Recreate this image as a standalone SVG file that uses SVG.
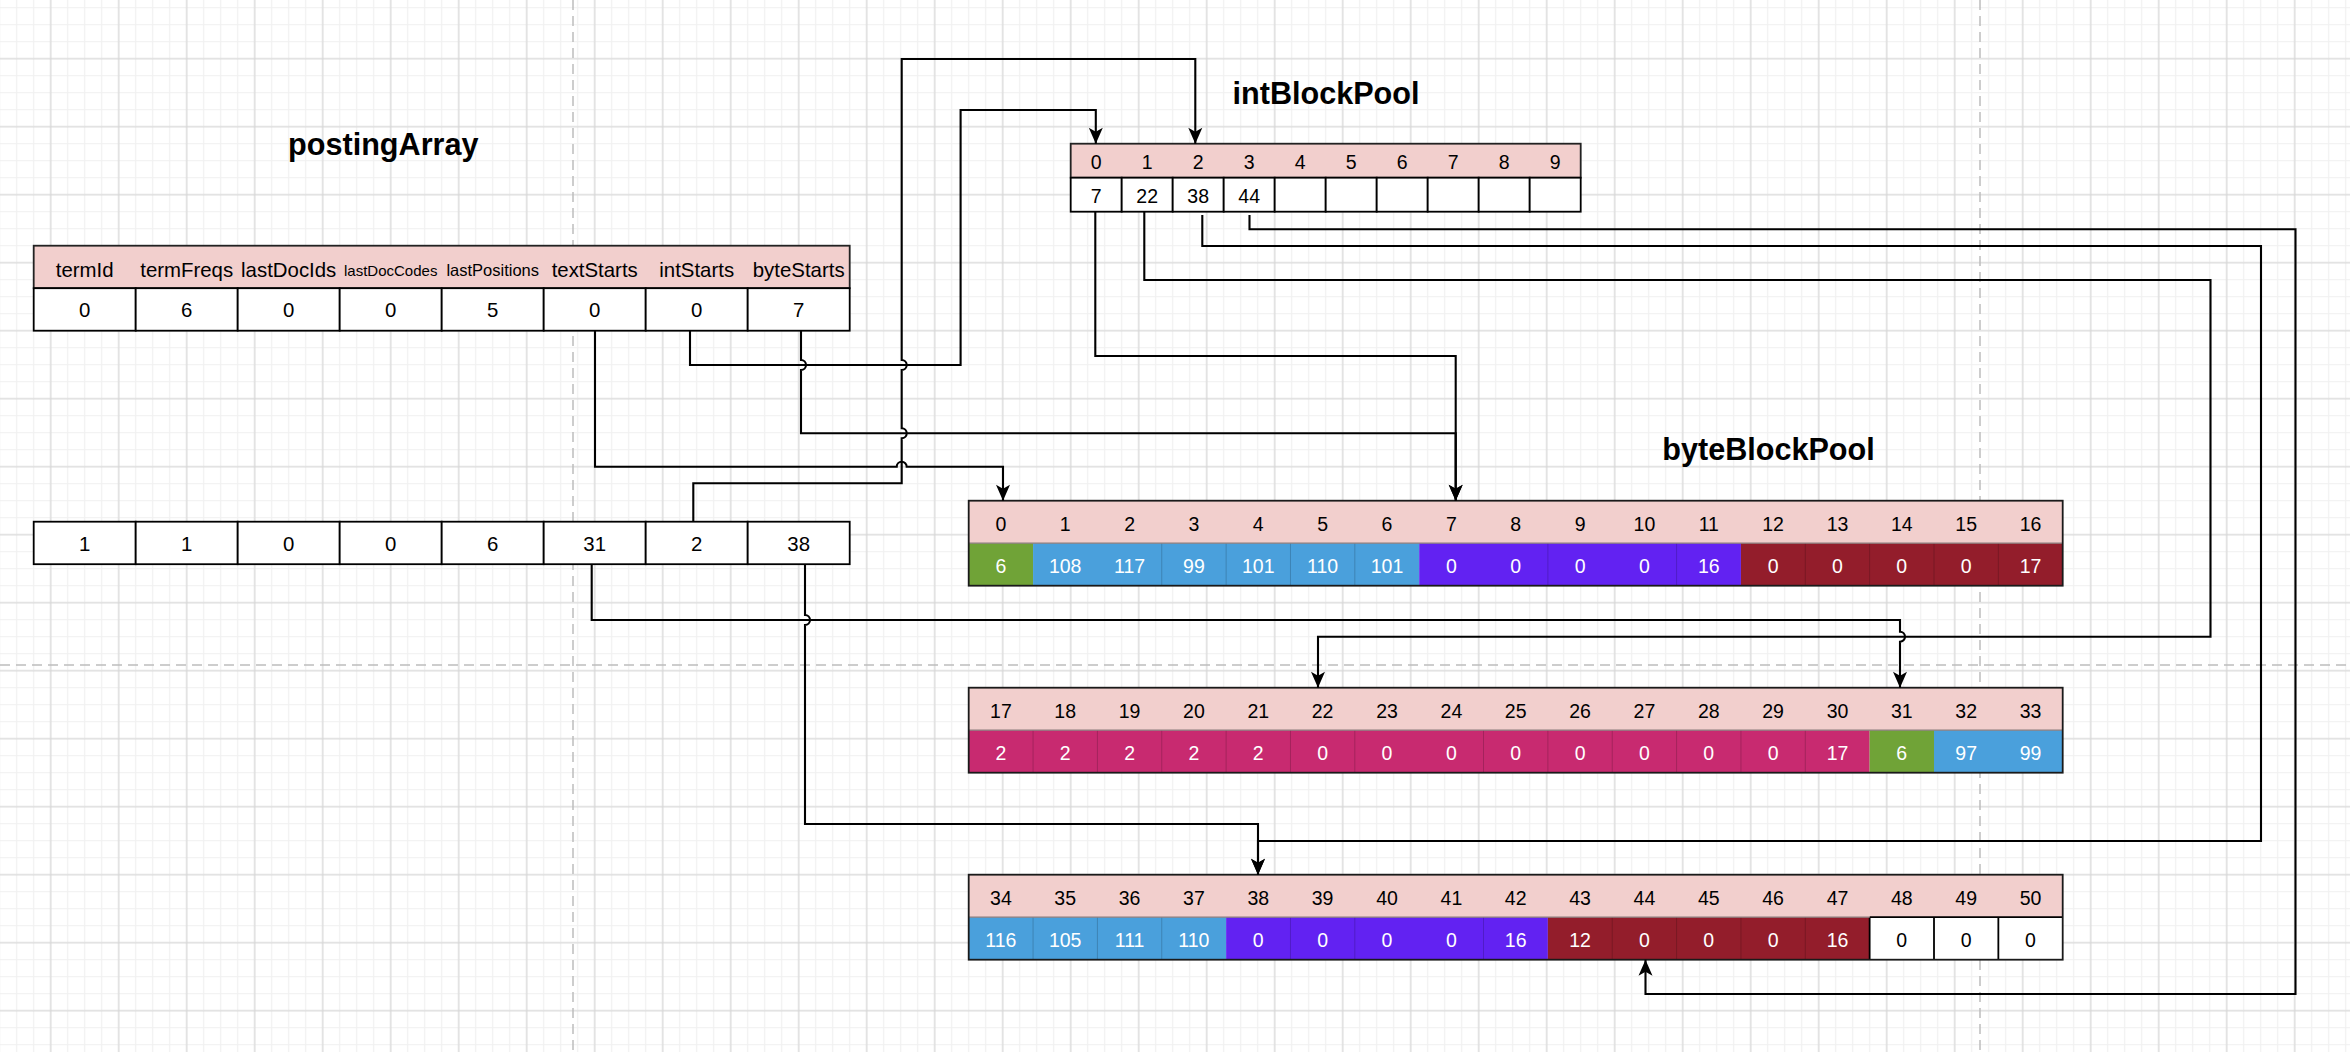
<svg xmlns="http://www.w3.org/2000/svg" width="2350" height="1052" viewBox="0 0 2350 1052">
<defs>
<pattern id="gmin" width="17" height="17" patternUnits="userSpaceOnUse" x="8.2" y="-0.8">
<path d="M8.5,0 V17 M0,8.5 H17" stroke="#f0f0f0" stroke-width="1.2" fill="none"/>
</pattern>
<pattern id="gmaj" width="68" height="68" patternUnits="userSpaceOnUse" x="16.7" y="24.7">
<path d="M34,0 V68 M0,34 H68" stroke="#d3d3d3" stroke-width="1" fill="none"/>
</pattern>
<marker id="arr" markerUnits="userSpaceOnUse" markerWidth="18" markerHeight="16" viewBox="0 0 18 16" refX="17" refY="8" orient="auto">
<path d="M1,1 L17,8 L1,15 L5,8 Z" fill="#000"/>
</marker>
</defs>
<style>
.t{font-family:"Liberation Sans",Arial,Helvetica,sans-serif;font-size:20.4px;text-anchor:middle;fill:#000}
.n{font-size:19.5px}
.w{fill:#fff}
.title{font-family:"Liberation Sans",Arial,Helvetica,sans-serif;font-size:30.6px;font-weight:bold;text-anchor:middle;fill:#000}
.cell{fill:#fff;stroke:#000;stroke-width:1.8}
.hdr{fill:#f2cfcd;stroke:#222;stroke-width:1.8}
.ph{fill:#f2cfcd}
.conn path{fill:none;stroke:#000;stroke-width:2.1}
.conn path.a{marker-end:url(#arr)}
.div{stroke:#000;stroke-opacity:0.18;stroke-width:1}
.sep{stroke:#8a7c7c;stroke-width:1.2}
.outer{fill:none;stroke:#1a1a1a;stroke-width:1.8}
.pb{stroke:#bdbdbd;stroke-width:1.5;stroke-dasharray:10 6}
.G{fill:#70a337}.B{fill:#4aa0dc}.P{fill:#6222f2}.R{fill:#931d2b}.M{fill:#c82a70}
</style>

<g id="background">
<rect x="0" y="0" width="2350" height="1052" fill="#fff"/>
<rect x="0" y="0" width="2350" height="1052" fill="url(#gmin)"/>
<rect x="0" y="0" width="2350" height="1052" fill="url(#gmaj)"/>
<line class="pb" x1="573" y1="0" x2="573" y2="1052"/>
<line class="pb" x1="1980" y1="0" x2="1980" y2="1052"/>
<line class="pb" x1="0" y1="665" x2="2350" y2="665"/>
</g>

<g id="titles">
<text class="title" x="383.3" y="155">postingArray</text>
<text class="title" x="1326" y="103.5">intBlockPool</text>
<text class="title" x="1768.5" y="460">byteBlockPool</text>
</g>

<g id="postingArray-row0">
<rect class="hdr" x="33.7" y="245.7" width="816" height="42.5"/>
<text class="t" x="84.7" y="276.7">termId</text>
<text class="t" x="186.7" y="276.7">termFreqs</text>
<text class="t" x="288.7" y="276.7">lastDocIds</text>
<text class="t" x="390.7" y="275.5" style="font-size:15px">lastDocCodes</text>
<text class="t" x="492.7" y="276" style="font-size:16.5px">lastPositions</text>
<text class="t" x="594.7" y="276.7">textStarts</text>
<text class="t" x="696.7" y="276.7">intStarts</text>
<text class="t" x="798.7" y="276.7">byteStarts</text>
<rect class="cell" x="33.7" y="288.2" width="102" height="42.5"/>
<rect class="cell" x="135.7" y="288.2" width="102" height="42.5"/>
<rect class="cell" x="237.7" y="288.2" width="102" height="42.5"/>
<rect class="cell" x="339.7" y="288.2" width="102" height="42.5"/>
<rect class="cell" x="441.7" y="288.2" width="102" height="42.5"/>
<rect class="cell" x="543.7" y="288.2" width="102" height="42.5"/>
<rect class="cell" x="645.7" y="288.2" width="102" height="42.5"/>
<rect class="cell" x="747.7" y="288.2" width="102" height="42.5"/>
<text class="t" x="84.7" y="317.3">0</text>
<text class="t" x="186.7" y="317.3">6</text>
<text class="t" x="288.7" y="317.3">0</text>
<text class="t" x="390.7" y="317.3">0</text>
<text class="t" x="492.7" y="317.3">5</text>
<text class="t" x="594.7" y="317.3">0</text>
<text class="t" x="696.7" y="317.3">0</text>
<text class="t" x="798.7" y="317.3">7</text>
</g>

<g id="postingArray-row1">
<rect class="cell" x="33.7" y="521.7" width="102" height="42.5"/>
<rect class="cell" x="135.7" y="521.7" width="102" height="42.5"/>
<rect class="cell" x="237.7" y="521.7" width="102" height="42.5"/>
<rect class="cell" x="339.7" y="521.7" width="102" height="42.5"/>
<rect class="cell" x="441.7" y="521.7" width="102" height="42.5"/>
<rect class="cell" x="543.7" y="521.7" width="102" height="42.5"/>
<rect class="cell" x="645.7" y="521.7" width="102" height="42.5"/>
<rect class="cell" x="747.7" y="521.7" width="102" height="42.5"/>
<text class="t" x="84.7" y="550.8">1</text>
<text class="t" x="186.7" y="550.8">1</text>
<text class="t" x="288.7" y="550.8">0</text>
<text class="t" x="390.7" y="550.8">0</text>
<text class="t" x="492.7" y="550.8">6</text>
<text class="t" x="594.7" y="550.8">31</text>
<text class="t" x="696.7" y="550.8">2</text>
<text class="t" x="798.7" y="550.8">38</text>
</g>

<g id="intBlockPool">
<rect class="hdr" x="1070.7" y="143.7" width="510" height="34"/>
<text class="t n" x="1096.2" y="169.3">0</text>
<text class="t n" x="1147.2" y="169.3">1</text>
<text class="t n" x="1198.2" y="169.3">2</text>
<text class="t n" x="1249.2" y="169.3">3</text>
<text class="t n" x="1300.2" y="169.3">4</text>
<text class="t n" x="1351.2" y="169.3">5</text>
<text class="t n" x="1402.2" y="169.3">6</text>
<text class="t n" x="1453.2" y="169.3">7</text>
<text class="t n" x="1504.2" y="169.3">8</text>
<text class="t n" x="1555.2" y="169.3">9</text>
<rect class="cell" x="1070.7" y="177.7" width="51" height="34"/>
<rect class="cell" x="1121.7" y="177.7" width="51" height="34"/>
<rect class="cell" x="1172.7" y="177.7" width="51" height="34"/>
<rect class="cell" x="1223.7" y="177.7" width="51" height="34"/>
<rect class="cell" x="1274.7" y="177.7" width="51" height="34"/>
<rect class="cell" x="1325.7" y="177.7" width="51" height="34"/>
<rect class="cell" x="1376.7" y="177.7" width="51" height="34"/>
<rect class="cell" x="1427.7" y="177.7" width="51" height="34"/>
<rect class="cell" x="1478.7" y="177.7" width="51" height="34"/>
<rect class="cell" x="1529.7" y="177.7" width="51" height="34"/>
<text class="t n" x="1096.2" y="202.7">7</text>
<text class="t n" x="1147.2" y="202.7">22</text>
<text class="t n" x="1198.2" y="202.7">38</text>
<text class="t n" x="1249.2" y="202.7">44</text>
</g>

<g id="byteBlockPool-row0">
<rect class="ph" x="968.7" y="500.7" width="1094" height="42.5"/>
<rect class="G" x="968.7" y="543.2" width="64.35" height="42.5"/>
<rect class="B" x="1033.05" y="543.2" width="386.12" height="42.5"/>
<rect class="P" x="1419.17" y="543.2" width="321.77" height="42.5"/>
<rect class="R" x="1740.94" y="543.2" width="321.76" height="42.5"/>
<path class="div" d="M1161.76,543.2V585.7M1226.11,543.2V585.7M1290.47,543.2V585.7M1354.82,543.2V585.7M1547.88,543.2V585.7M1676.58,543.2V585.7M1805.29,543.2V585.7M1869.64,543.2V585.7M1934,543.2V585.7M1998.35,543.2V585.7"/>
<line class="sep" x1="968.7" y1="543.2" x2="2062.7" y2="543.2"/>
<rect class="outer" x="968.7" y="500.7" width="1094" height="85"/>
<text class="t n" x="1000.9" y="531">0</text>
<text class="t n" x="1065.2" y="531">1</text>
<text class="t n" x="1129.6" y="531">2</text>
<text class="t n" x="1193.9" y="531">3</text>
<text class="t n" x="1258.3" y="531">4</text>
<text class="t n" x="1322.6" y="531">5</text>
<text class="t n" x="1387" y="531">6</text>
<text class="t n" x="1451.4" y="531">7</text>
<text class="t n" x="1515.7" y="531">8</text>
<text class="t n" x="1580.1" y="531">9</text>
<text class="t n" x="1644.4" y="531">10</text>
<text class="t n" x="1708.8" y="531">11</text>
<text class="t n" x="1773.1" y="531">12</text>
<text class="t n" x="1837.5" y="531">13</text>
<text class="t n" x="1901.8" y="531">14</text>
<text class="t n" x="1966.2" y="531">15</text>
<text class="t n" x="2030.5" y="531">16</text>
<text class="t n w" x="1000.9" y="572.5">6</text>
<text class="t n w" x="1065.2" y="572.5">108</text>
<text class="t n w" x="1129.6" y="572.5">117</text>
<text class="t n w" x="1193.9" y="572.5">99</text>
<text class="t n w" x="1258.3" y="572.5">101</text>
<text class="t n w" x="1322.6" y="572.5">110</text>
<text class="t n w" x="1387" y="572.5">101</text>
<text class="t n w" x="1451.4" y="572.5">0</text>
<text class="t n w" x="1515.7" y="572.5">0</text>
<text class="t n w" x="1580.1" y="572.5">0</text>
<text class="t n w" x="1644.4" y="572.5">0</text>
<text class="t n w" x="1708.8" y="572.5">16</text>
<text class="t n w" x="1773.1" y="572.5">0</text>
<text class="t n w" x="1837.5" y="572.5">0</text>
<text class="t n w" x="1901.8" y="572.5">0</text>
<text class="t n w" x="1966.2" y="572.5">0</text>
<text class="t n w" x="2030.5" y="572.5">17</text>
</g>

<g id="byteBlockPool-row1">
<rect class="ph" x="968.7" y="687.7" width="1094" height="42.5"/>
<rect class="M" x="968.7" y="730.2" width="900.94" height="42.5"/>
<rect class="G" x="1869.64" y="730.2" width="64.36" height="42.5"/>
<rect class="B" x="1934" y="730.2" width="128.7" height="42.5"/>
<path class="div" d="M1033.05,730.2V772.7M1097.41,730.2V772.7M1161.76,730.2V772.7M1226.11,730.2V772.7M1290.47,730.2V772.7M1354.82,730.2V772.7M1483.52,730.2V772.7M1547.88,730.2V772.7M1612.23,730.2V772.7M1676.58,730.2V772.7M1740.94,730.2V772.7M1805.29,730.2V772.7"/>
<line class="sep" x1="968.7" y1="730.2" x2="2062.7" y2="730.2"/>
<rect class="outer" x="968.7" y="687.7" width="1094" height="85"/>
<text class="t n" x="1000.9" y="718">17</text>
<text class="t n" x="1065.2" y="718">18</text>
<text class="t n" x="1129.6" y="718">19</text>
<text class="t n" x="1193.9" y="718">20</text>
<text class="t n" x="1258.3" y="718">21</text>
<text class="t n" x="1322.6" y="718">22</text>
<text class="t n" x="1387" y="718">23</text>
<text class="t n" x="1451.4" y="718">24</text>
<text class="t n" x="1515.7" y="718">25</text>
<text class="t n" x="1580.1" y="718">26</text>
<text class="t n" x="1644.4" y="718">27</text>
<text class="t n" x="1708.8" y="718">28</text>
<text class="t n" x="1773.1" y="718">29</text>
<text class="t n" x="1837.5" y="718">30</text>
<text class="t n" x="1901.8" y="718">31</text>
<text class="t n" x="1966.2" y="718">32</text>
<text class="t n" x="2030.5" y="718">33</text>
<text class="t n w" x="1000.9" y="759.5">2</text>
<text class="t n w" x="1065.2" y="759.5">2</text>
<text class="t n w" x="1129.6" y="759.5">2</text>
<text class="t n w" x="1193.9" y="759.5">2</text>
<text class="t n w" x="1258.3" y="759.5">2</text>
<text class="t n w" x="1322.6" y="759.5">0</text>
<text class="t n w" x="1387" y="759.5">0</text>
<text class="t n w" x="1451.4" y="759.5">0</text>
<text class="t n w" x="1515.7" y="759.5">0</text>
<text class="t n w" x="1580.1" y="759.5">0</text>
<text class="t n w" x="1644.4" y="759.5">0</text>
<text class="t n w" x="1708.8" y="759.5">0</text>
<text class="t n w" x="1773.1" y="759.5">0</text>
<text class="t n w" x="1837.5" y="759.5">17</text>
<text class="t n w" x="1901.8" y="759.5">6</text>
<text class="t n w" x="1966.2" y="759.5">97</text>
<text class="t n w" x="2030.5" y="759.5">99</text>
</g>

<g id="byteBlockPool-row2">
<rect class="ph" x="968.7" y="874.7" width="1094" height="42.5"/>
<rect class="B" x="968.7" y="917.2" width="257.41" height="42.5"/>
<rect class="P" x="1226.11" y="917.2" width="321.77" height="42.5"/>
<rect class="R" x="1547.88" y="917.2" width="321.76" height="42.5"/>
<rect fill="#fff" x="1869.64" y="917.2" width="193.06" height="42.5"/>
<path class="div" d="M1033.05,917.2V959.7M1097.41,917.2V959.7M1161.76,917.2V959.7M1290.47,917.2V959.7M1354.82,917.2V959.7M1483.52,917.2V959.7M1612.23,917.2V959.7M1676.58,917.2V959.7M1740.94,917.2V959.7M1805.29,917.2V959.7"/>
<path d="M1869.64,917.2V959.7M1934,917.2V959.7M1998.35,917.2V959.7M1869.64,917.2H2062.7" stroke="#000" stroke-width="1.8"/>
<line class="sep" x1="968.7" y1="917.2" x2="1869.64" y2="917.2"/>
<rect class="outer" x="968.7" y="874.7" width="1094" height="85"/>
<text class="t n" x="1000.9" y="905">34</text>
<text class="t n" x="1065.2" y="905">35</text>
<text class="t n" x="1129.6" y="905">36</text>
<text class="t n" x="1193.9" y="905">37</text>
<text class="t n" x="1258.3" y="905">38</text>
<text class="t n" x="1322.6" y="905">39</text>
<text class="t n" x="1387" y="905">40</text>
<text class="t n" x="1451.4" y="905">41</text>
<text class="t n" x="1515.7" y="905">42</text>
<text class="t n" x="1580.1" y="905">43</text>
<text class="t n" x="1644.4" y="905">44</text>
<text class="t n" x="1708.8" y="905">45</text>
<text class="t n" x="1773.1" y="905">46</text>
<text class="t n" x="1837.5" y="905">47</text>
<text class="t n" x="1901.8" y="905">48</text>
<text class="t n" x="1966.2" y="905">49</text>
<text class="t n" x="2030.5" y="905">50</text>
<text class="t n w" x="1000.9" y="946.5">116</text>
<text class="t n w" x="1065.2" y="946.5">105</text>
<text class="t n w" x="1129.6" y="946.5">111</text>
<text class="t n w" x="1193.9" y="946.5">110</text>
<text class="t n w" x="1258.3" y="946.5">0</text>
<text class="t n w" x="1322.6" y="946.5">0</text>
<text class="t n w" x="1387" y="946.5">0</text>
<text class="t n w" x="1451.4" y="946.5">0</text>
<text class="t n w" x="1515.7" y="946.5">16</text>
<text class="t n w" x="1580.1" y="946.5">12</text>
<text class="t n w" x="1644.4" y="946.5">0</text>
<text class="t n w" x="1708.8" y="946.5">0</text>
<text class="t n w" x="1773.1" y="946.5">0</text>
<text class="t n w" x="1837.5" y="946.5">16</text>
<text class="t n" x="1901.8" y="946.5">0</text>
<text class="t n" x="1966.2" y="946.5">0</text>
<text class="t n" x="2030.5" y="946.5">0</text>
</g>

<g id="connectors" class="conn">
<path class="a" d="M595,330.7 V466.7 H896.7 A5,5 0 0 1 906.7,466.7 H1003 V500.7"/>
<path class="a" d="M690,330.7 V365 H960.6 V110 H1095.8 V143.7"/>
<path class="a" d="M693.3,521.7 V483.3 H901.7 V438.3 A5,5 0 0 0 901.7,428.3 V370 A5,5 0 0 0 901.7,360 V59 H1195.3 V143.7"/>
<path class="a" d="M801,330.7 V360 A5,5 0 0 1 801,370 V433.3 H1455.7 V500.7"/>
<path class="a" d="M1095.3,211.7 V356 H1455.7 V500.7"/>
<path class="a" d="M591.7,564.2 V620 H1900 V631.7 A5,5 0 0 1 1900,641.7 V687.7"/>
<path class="a" d="M805,564.2 V615 A5,5 0 0 1 805,625 V824 H1258 V874.7"/>
<path class="a" d="M1144.3,211.7 V280 H2210.5 V636.7 H1318 V687.7"/>
<path class="a" d="M1202.3,215 V246 H2261 V841 H1258 V874.7"/>
<path class="a" d="M1249.5,215 V229.3 H2295.5 V994 H1645.5 V959.7"/>
</g>
</svg>
